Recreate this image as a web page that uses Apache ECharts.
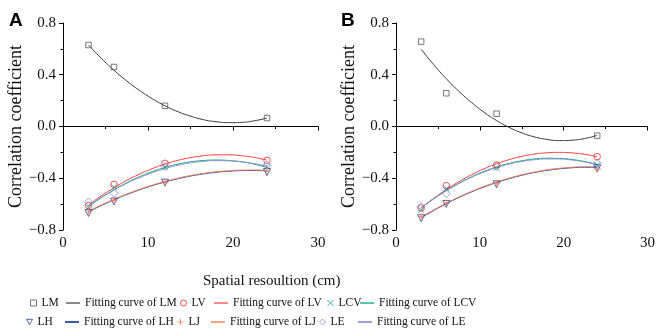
<!DOCTYPE html>
<html>
<head>
<meta charset="utf-8">
<script src="https://cdn.jsdelivr.net/npm/echarts@6/dist/echarts.min.js"></script>
<style>html,body{margin:0;padding:0;background:#fff}#c{width:658px;height:331px}</style>
</head>
<body>
<div id="c"></div>
<script>
// ---------- data ----------
const xPts = [3, 6, 12, 24];
const xFit = [3, 4.5, 6, 7.5, 9, 10.5, 12, 13.5, 15, 16.5, 18, 19.5, 21, 22.5, 24];

// Panel A observations
const LM_A  = [0.63, 0.46, 0.16, 0.065];
const LV_A  = [-0.61, -0.447, -0.284, -0.261];
const LCV_A = [-0.625, -0.47, -0.315, -0.31];
const LE_A  = [-0.583, -0.516, -0.31, -0.297];
const LH_A  = [-0.668, -0.58, -0.434, -0.352];
const LJ_A  = [-0.655, -0.572, -0.43, -0.34];
// Panel A fitting curves
const fitLM_A  = [0.630, 0.528, 0.435, 0.352, 0.279, 0.215, 0.160, 0.115, 0.080, 0.053, 0.037, 0.030, 0.032, 0.044, 0.065];
const fitLV_A  = [-0.607, -0.537, -0.474, -0.417, -0.368, -0.326, -0.290, -0.262, -0.241, -0.226, -0.219, -0.219, -0.226, -0.239, -0.260];
const fitLCV_A = [-0.619, -0.551, -0.489, -0.435, -0.389, -0.349, -0.317, -0.291, -0.273, -0.263, -0.259, -0.263, -0.273, -0.291, -0.317];
const fitLE_A  = [-0.612, -0.548, -0.491, -0.439, -0.395, -0.357, -0.325, -0.300, -0.282, -0.270, -0.264, -0.265, -0.273, -0.287, -0.308];
const fitLH_A  = [-0.660, -0.611, -0.567, -0.526, -0.490, -0.457, -0.429, -0.404, -0.383, -0.367, -0.354, -0.346, -0.341, -0.340, -0.344];
const fitLJ_A  = [-0.656, -0.607, -0.563, -0.522, -0.486, -0.453, -0.425, -0.400, -0.379, -0.363, -0.350, -0.342, -0.337, -0.336, -0.340];

// Panel B observations
const LM_B  = [0.656, 0.257, 0.099, -0.071];
const LV_B  = [-0.63, -0.457, -0.297, -0.233];
const LCV_B = [-0.645, -0.48, -0.32, -0.30];
const LE_B  = [-0.62, -0.52, -0.31, -0.285];
const LH_B  = [-0.709, -0.599, -0.447, -0.323];
const LJ_B  = [-0.695, -0.59, -0.44, -0.33];
// Panel B fitting curves
const fitLM_B  = [0.597, 0.478, 0.369, 0.272, 0.186, 0.110, 0.046, -0.007, -0.049, -0.080, -0.100, -0.109, -0.106, -0.093, -0.069];
const fitLV_B  = [-0.630, -0.555, -0.487, -0.427, -0.373, -0.327, -0.288, -0.256, -0.231, -0.213, -0.203, -0.200, -0.204, -0.215, -0.234];
const fitLCV_B = [-0.629, -0.559, -0.495, -0.439, -0.389, -0.347, -0.313, -0.285, -0.265, -0.251, -0.245, -0.247, -0.255, -0.271, -0.293];
const fitLE_B  = [-0.627, -0.558, -0.496, -0.441, -0.393, -0.352, -0.318, -0.290, -0.270, -0.257, -0.251, -0.251, -0.259, -0.274, -0.295];
const fitLH_B  = [-0.705, -0.649, -0.597, -0.549, -0.506, -0.467, -0.433, -0.403, -0.377, -0.356, -0.339, -0.327, -0.319, -0.315, -0.316];
const fitLJ_B  = [-0.701, -0.645, -0.593, -0.545, -0.502, -0.463, -0.429, -0.399, -0.373, -0.352, -0.335, -0.323, -0.315, -0.311, -0.312];

const seriesNames = ['LM', 'LV', 'LCV', 'LH', 'LJ', 'LE'];
const xTicks = [0, 10, 20, 30];
const yTicks = [-0.8, -0.4, 0.0, 0.4, 0.8];
const xTitle = 'Spatial resoultion (cm)';
const yTitle = 'Correlation coefficient';
const panelLabels = ['A', 'B'];

// ---------- styles ----------
const FONT = '"Liberation Serif","Times New Roman",serif';
const colors = {
  LM:  {pt: '#555555', ln: '#3a3a3a', lg: '#8a8a8a'},
  LV:  {pt: '#ff2a2a', ln: '#ff3b3b', lg: '#f58a86'},
  LCV: {pt: '#14a08e', ln: '#14a08e', lg: '#5cc2b4'},
  LH:  {pt: '#24439a', ln: '#24439a', lg: '#3a5aa6'},
  LJ:  {pt: '#ff7a50', ln: '#f4805e', lg: '#f7a082'},
  LE:  {pt: '#8489d0', ln: '#8a93c8', lg: '#9aa4cf'}
};
const symbols = {
  LM:  {symbol: 'rect', size: 5.5},
  LV:  {symbol: 'circle', size: 6.5},
  LCV: {symbol: 'path://M0,0L10,10M10,0L0,10', size: 6},
  LH:  {symbol: 'path://M0,0L10,0L5,9Z', size: 7},
  LJ:  {symbol: 'path://M5,0L5,10M0,5L10,5', size: 7},
  LE:  {symbol: 'diamond', size: 8}
};
const panelData = [
  {pts: {LM: LM_A, LV: LV_A, LCV: LCV_A, LH: LH_A, LJ: LJ_A, LE: LE_A},
   fit: {LM: fitLM_A, LV: fitLV_A, LCV: fitLCV_A, LH: fitLH_A, LJ: fitLJ_A, LE: fitLE_A}},
  {pts: {LM: LM_B, LV: LV_B, LCV: LCV_B, LH: LH_B, LJ: LJ_B, LE: LE_B},
   fit: {LM: fitLM_B, LV: fitLV_B, LCV: fitLCV_B, LH: fitLH_B, LJ: fitLJ_B, LE: fitLE_B}}
];

const zip = (xs, ys) => xs.map((x, i) => [x, ys[i]]);
const series = [];
panelData.forEach((pd, p) => {
  seriesNames.forEach(n => {
    series.push({
      name: 'Fitting curve of ' + n, type: 'line', xAxisIndex: p, yAxisIndex: p,
      data: zip(xFit, pd.fit[n]), smooth: true, symbol: 'none', silent: true,
      lineStyle: {color: colors[n].ln, width: 1}, itemStyle: {color: colors[n].lg}, z: 2
    });
  });
  seriesNames.forEach(n => {
    const s = symbols[n];
    series.push({
      name: n, type: 'scatter', xAxisIndex: p, yAxisIndex: p,
      data: zip(xPts, pd.pts[n]), symbol: s.symbol, symbolSize: s.size,
      itemStyle: {color: 'rgba(255,255,255,0)', borderColor: colors[n].pt, borderWidth: 1},
      z: 3
    });
  });
});

const axisCommon = {
  axisLine: {show: true, lineStyle: {color: '#000', width: 1}},
  axisTick: {show: true, inside: false, length: 4, lineStyle: {color: '#000'}},
  minorTick: {show: true, splitNumber: 2, length: 2.5, lineStyle: {color: '#000'}},
  splitLine: {show: false},
  axisLabel: {color: '#111', fontFamily: FONT, fontSize: 15}
};
const fmtY = v => (v < 0 ? '\u2212' : '') + Math.abs(v).toFixed(1);

const grids = [
  {left: 63, right: 340, top: 23, bottom: 101},
  {left: 396, right: 8, top: 23, bottom: 101}
];
const xAxes = grids.map((g, i) => Object.assign({}, axisCommon, {
  type: 'value', gridIndex: i, min: xTicks[0], max: xTicks[xTicks.length - 1], interval: xTicks[1] - xTicks[0],
  axisLabel: Object.assign({}, axisCommon.axisLabel, {margin: 6})
}));
const yAxes = grids.map((g, i) => Object.assign({}, axisCommon, {
  type: 'value', gridIndex: i, min: yTicks[0], max: yTicks[yTicks.length - 1], interval: yTicks[1] - yTicks[0],
  axisLabel: Object.assign({}, axisCommon.axisLabel, {margin: 7, formatter: fmtY}),
  name: yTitle, nameLocation: 'middle', nameGap: i === 0 ? 34 : 37, nameRotate: 90,
  nameTextStyle: {fontFamily: FONT, fontSize: 18, color: '#111'}
}));

// legend layout: [name, left, top, isLine]
const legendLayout = [
  ['LM', 30, 297, false], ['Fitting curve of LM', 66, 297, true],
  ['LV', 180, 297, false], ['Fitting curve of LV', 214, 297, true],
  ['LCV', 327, 297, false], ['Fitting curve of LCV', 360, 297, true],
  ['LH', 26, 316, false], ['Fitting curve of LH', 65, 316, true],
  ['LJ', 177, 316, false], ['Fitting curve of LJ', 211, 316, true],
  ['LE', 319, 316, false], ['Fitting curve of LE', 358, 316, true]
];
const legends = legendLayout.map(([name, left, top, isLine]) => Object.assign({
  data: [name], left: left, top: top, orient: 'horizontal', padding: 0,
  itemGap: 0, selectedMode: false,
  textStyle: {fontFamily: FONT, fontSize: 11.5, color: '#111'}
}, isLine ? {icon: 'rect', itemWidth: 14, itemHeight: 2}
          : {itemWidth: 6, itemHeight: 6, itemStyle: {borderWidth: 1}}));

const option = {
  animation: false,
  backgroundColor: '#fff',
  grid: grids,
  xAxis: xAxes,
  yAxis: yAxes,
  legend: legends,
  title: [
    {text: panelLabels[0], left: 9, top: 11, padding: 0,
     textStyle: {fontFamily: '"Liberation Sans",Arial,sans-serif', fontWeight: 'bold', fontSize: 19, color: '#000'}},
    {text: panelLabels[1], left: 341, top: 11, padding: 0,
     textStyle: {fontFamily: '"Liberation Sans",Arial,sans-serif', fontWeight: 'bold', fontSize: 19, color: '#000'}},
    {text: xTitle, left: 203, top: 274, padding: 0,
     textStyle: {fontFamily: FONT, fontWeight: 'normal', fontSize: 15, color: '#111'}}
  ],
  series: series
};
const chart = echarts.init(document.getElementById('c'), null, {renderer: 'canvas'});
chart.setOption(option);
</script>
</body>
</html>
